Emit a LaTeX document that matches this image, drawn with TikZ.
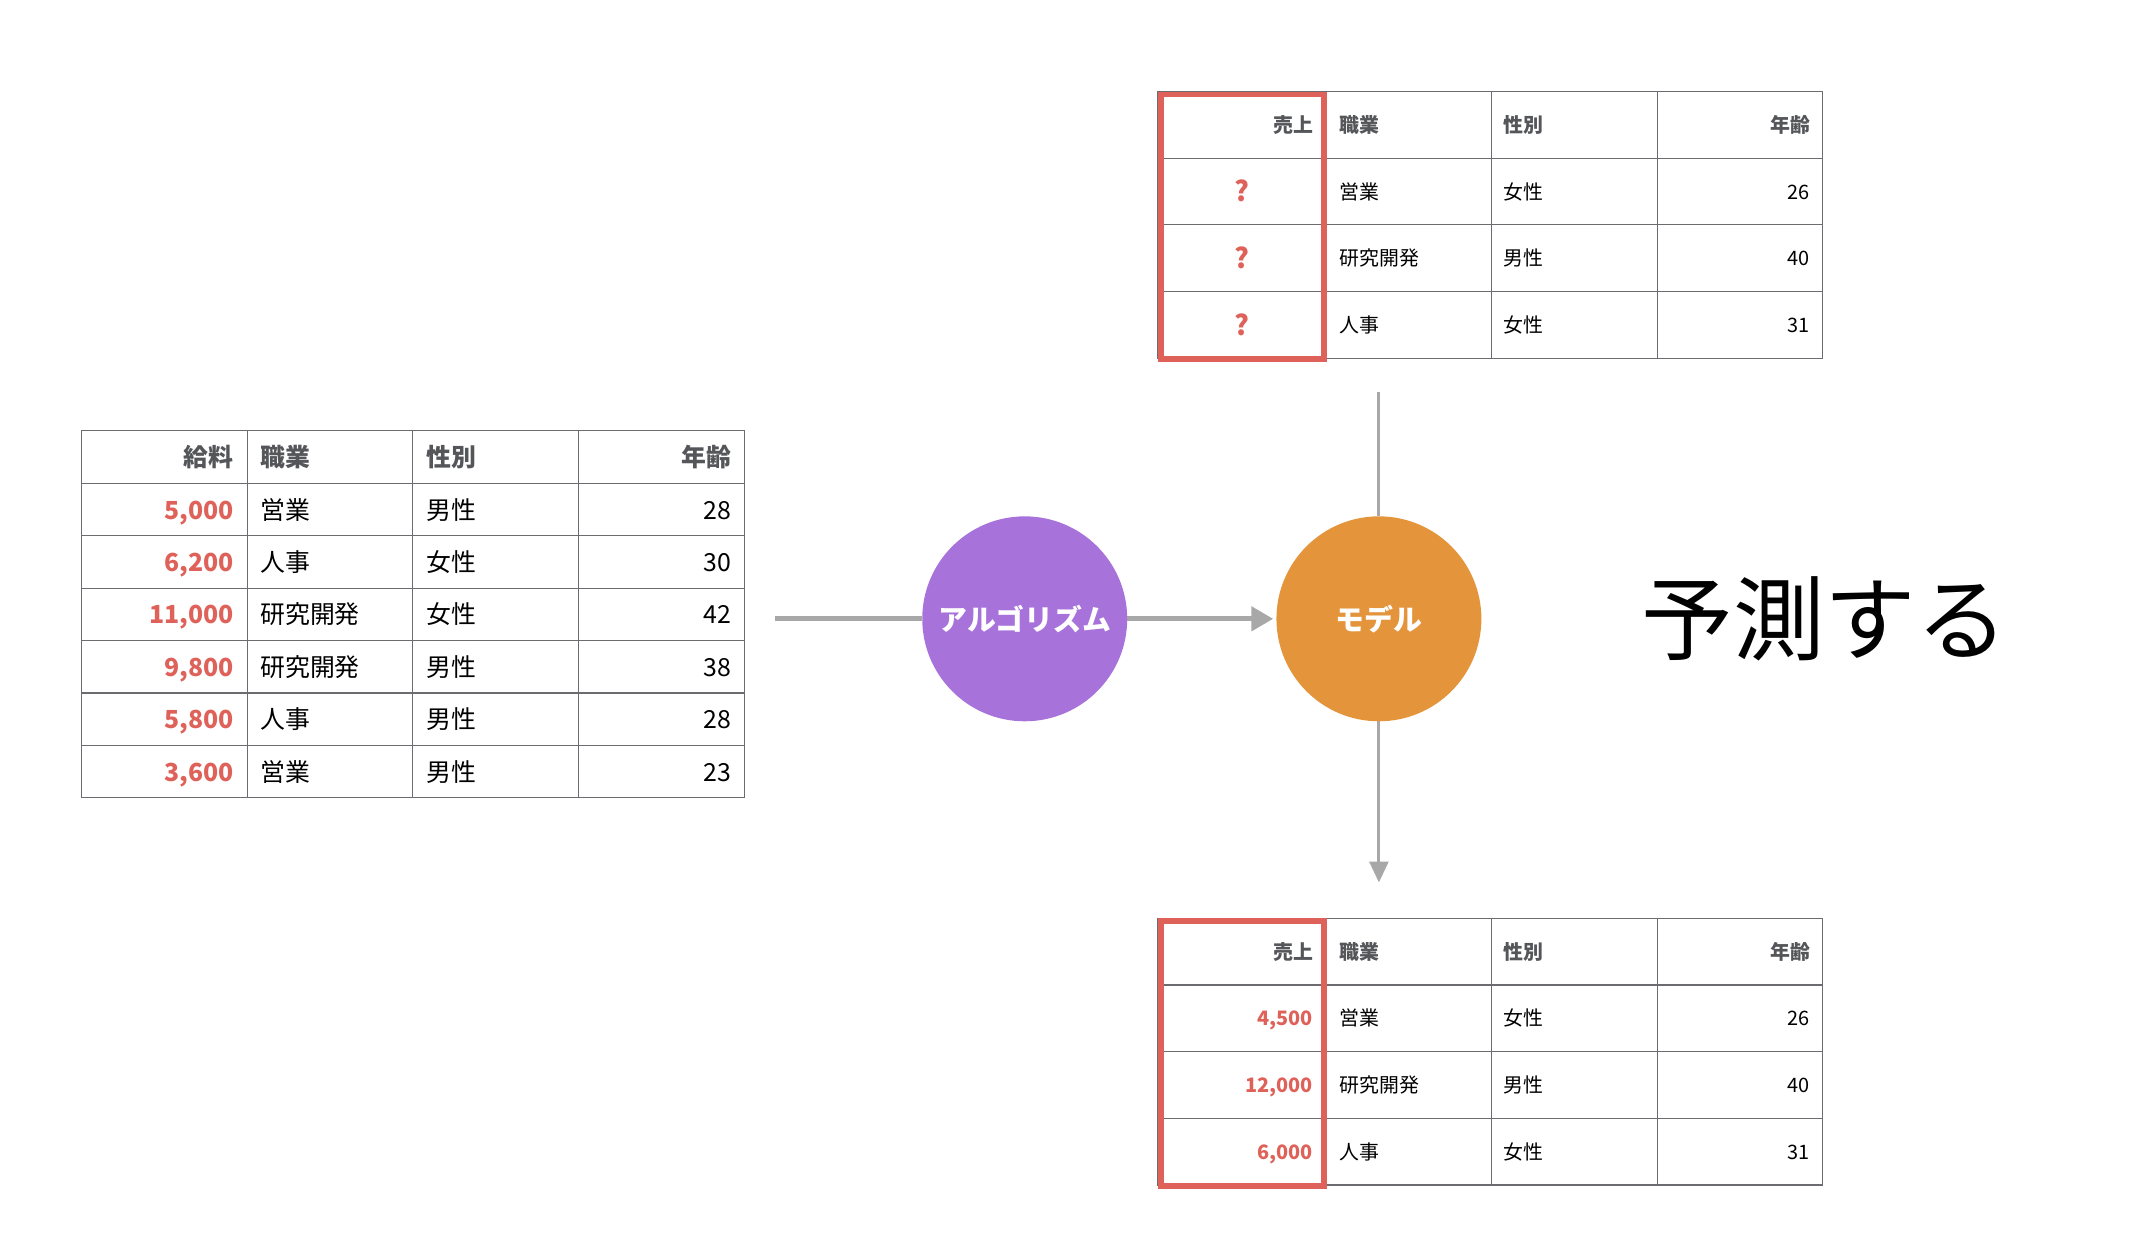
\documentclass[tikz,border=0pt]{standalone}
\usepackage{fontspec}
\setmainfont{Noto Sans CJK JP}
\usetikzlibrary{arrows.meta,backgrounds}
\definecolor{tred}{HTML}{DE625A}
\definecolor{hgray}{HTML}{55565A}
\definecolor{gridc}{HTML}{6B6B70}
\definecolor{purp}{HTML}{A872DB}
\definecolor{oran}{HTML}{E4953C}
\definecolor{conn}{HTML}{A8A8A8}
\tikzset{
  gridline/.style={draw=gridc, line width=1.2pt},
  bigtxt/.style={inner sep=0pt, font=\fontsize{25}{30}\selectfont},
  bighdr/.style={inner sep=0pt, text=hgray, font=\fontsize{25}{30}\selectfont\bfseries},
  bignum/.style={inner sep=0pt, text=tred, font=\fontsize{25}{30}\selectfont\bfseries},
  smalltxt/.style={inner sep=0pt, font=\fontsize{20}{24}\selectfont},
  smallhdr/.style={inner sep=0pt, text=hgray, font=\fontsize{20}{24}\selectfont\bfseries},
  smallnum/.style={inner sep=0pt, text=tred, font=\fontsize{20}{24}\selectfont\bfseries},
  qmark/.style={inner sep=0pt, text=tred, font=\fontsize{28}{30}\selectfont\bfseries},
  redbox/.style={draw=tred, line width=6pt},
  bubble/.style={circle, minimum size=206pt, inner sep=0pt, text=white,
     font=\fontsize{29}{32}\selectfont\bfseries},
  conline/.style={draw=conn, line cap=butt},
}
\begin{document}
\begin{tikzpicture}[x=1pt,y=-1pt]
\useasboundingbox (0,0) rectangle (2147,1242);
% ---------- left table ----------
\draw[gridline] (82,433) rectangle (748,802);
\foreach \x in {248.5,415,581.5} \draw[gridline] (\x,433) -- (\x,802);
\foreach \i in {1,...,6} \draw[gridline] (82,{433+\i*52.714}) -- (748,{433+\i*52.714});
\node[bighdr,anchor=base east] (Lh1) at (235,469) {給料};
\node[bighdr,anchor=base west] (Lh2) at (261.5,469) {職業};
\node[bighdr,anchor=base west] (Lh3) at (428.5,469) {性別};
\node[bighdr,anchor=base east] (Lh4) at (735,469) {年齢};
\foreach \a/\b/\c/\d [count=\i] in {5{,}000/営業/男性/28, 6{,}200/人事/女性/30, 11{,}000/研究開発/女性/42, 9{,}800/研究開発/男性/38, 5{,}800/人事/男性/28, 3{,}600/営業/男性/23}{
  \node[bignum,anchor=base east] (La\i) at (235,{442.6+(\i+0.5)*52.714}) {\a};
  \node[bigtxt,anchor=base west] (Lb\i) at (261.5,{442.6+(\i+0.5)*52.714}) {\b};
  \node[bigtxt,anchor=base west] (Lc\i) at (428.5,{442.6+(\i+0.5)*52.714}) {\c};
  \node[bigtxt,anchor=base east] (Ld\i) at (735,{442.6+(\i+0.5)*52.714}) {\d};
}
% ---------- top table ----------
\draw[gridline] (1164,92) rectangle (1832,360);
\foreach \x in {1499,1666} \draw[gridline] (\x,92) -- (\x,360);
\foreach \i in {1,2,3} \draw[gridline] (1164,{92+\i*67}) -- (1832,{92+\i*67});
\node[smallhdr,anchor=base east] (Th1) at (1320,133.2) {売上};
\node[smallhdr,anchor=base west] (Th2) at (1346,133.2) {職業};
\node[smallhdr,anchor=base west] (Th3) at (1511.5,133.2) {性別};
\node[smallhdr,anchor=base east] (Th4) at (1819.5,133.2) {年齢};
\foreach \b/\c/\d [count=\i] in {営業/女性/26, 研究開発/男性/40, 人事/女性/31}{
  \node[qmark,anchor=base] (Ta\i) at (1248.5,{102.3+(\i+0.5)*67}) {?};
  \node[smalltxt,anchor=base west] (Tb\i) at (1346,{99.7+(\i+0.5)*67}) {\b};
  \node[smalltxt,anchor=base west] (Tc\i) at (1511.5,{99.7+(\i+0.5)*67}) {\c};
  \node[smalltxt,anchor=base east] (Td\i) at (1819.5,{99.7+(\i+0.5)*67}) {\d};
}
\draw[redbox] (1166.5,95) rectangle (1331,361);
% ---------- bottom table ----------
\draw[gridline] (1164,923) rectangle (1832,1191);
\foreach \x in {1499,1666} \draw[gridline] (\x,923) -- (\x,1191);
\foreach \i in {1,2,3} \draw[gridline] (1164,{923+\i*67}) -- (1832,{923+\i*67});
\node[smallhdr,anchor=base east] (Bh1) at (1320,964.2) {売上};
\node[smallhdr,anchor=base west] (Bh2) at (1346,964.2) {職業};
\node[smallhdr,anchor=base west] (Bh3) at (1511.5,964.2) {性別};
\node[smallhdr,anchor=base east] (Bh4) at (1819.5,964.2) {年齢};
\foreach \a/\b/\c/\d [count=\i] in {4{,}500/営業/女性/26, 12{,}000/研究開発/男性/40, 6{,}000/人事/女性/31}{
  \node[smallnum,anchor=base east] (Ba\i) at (1320,{930.7+(\i+0.5)*67}) {\a};
  \node[smalltxt,anchor=base west] (Bb\i) at (1346,{930.7+(\i+0.5)*67}) {\b};
  \node[smalltxt,anchor=base west] (Bc\i) at (1511.5,{930.7+(\i+0.5)*67}) {\c};
  \node[smalltxt,anchor=base east] (Bd\i) at (1819.5,{930.7+(\i+0.5)*67}) {\d};
}
\draw[redbox] (1166.5,926) rectangle (1331,1192);
% ---------- circles ----------
\node[bubble, fill=purp] (algo) at (1030,622) {アルゴリズム};
\node[bubble, fill=oran] (model) at (1386,622) {モデル};
\node[inner sep=0pt, font=\fontsize{92}{100}\selectfont] (pred) at (1834,622) {予測する};
% ---------- connectors ----------
\coordinate (tin) at (779,622);
\coordinate (vtop) at (1386,394);
\coordinate (vbot) at (1386,887);
\begin{scope}[on background layer]
\draw[conline, line width=5pt] (tin) -- (algo.west);
\draw[conline, line width=5pt, -{Triangle[length=22pt,width=24pt]}, shorten >=3pt] (algo.east) -- (model.west);
\draw[conline, line width=3pt] (vtop) -- (model.north);
\draw[conline, line width=3pt, -{Triangle[length=21pt,width=19pt]}] (model.south) -- (vbot);
\end{scope}
\end{tikzpicture}
\end{document}
